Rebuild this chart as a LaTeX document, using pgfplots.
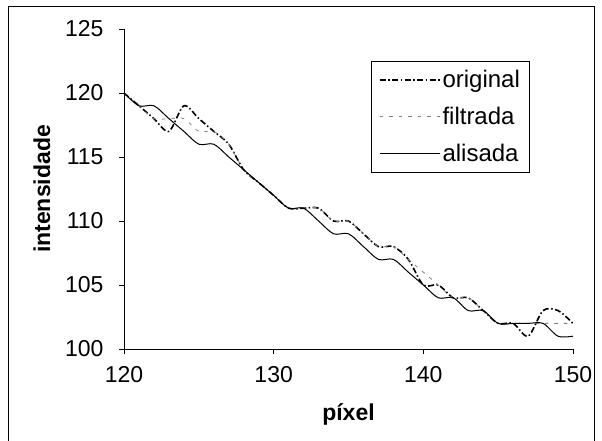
\documentclass[border=0pt]{standalone}
\usepackage{fontspec}
\setmainfont{Liberation Sans}
\usepackage{pgfplots}
\pgfplotsset{compat=1.18}
\begin{document}
\begin{tikzpicture}[x=1pt,y=1pt]
\path[use as bounding box] (0,0) rectangle (602,441);
\draw[line width=1pt] (8.5,0) -- (8.5,434) -- (594,434) -- (594,0);
\begin{axis}[
  at={(124pt,92pt)}, anchor=south west,
  width=449pt, height=320pt, scale only axis,
  xmin=120, xmax=150, ymin=100, ymax=125,
  axis x line*=bottom, axis y line*=left,
  axis line style={line width=0.8pt, -},
  xtick={120,130,140,150}, ytick={100,105,110,115,120,125},
  tick align=outside, major tick length=5pt,
  tick style={line width=0.8pt, black},
  /pgf/number format/assume math mode=true,
  ticklabel style={font=\fontsize{23}{27}\selectfont},
  yticklabel style={xshift=-12pt},
  xticklabel style={yshift=-9pt},
  xlabel={\textbf{píxel}}, ylabel={\textbf{intensidade}},
  label style={font=\fontsize{23}{27}\selectfont},
  xlabel style={at={(axis description cs:0.5,-0.205)}, anchor=center},
  ylabel style={at={(axis description cs:-0.183,0.5)}, anchor=center},
  legend image code/.code={\draw[#1] (0pt,0pt) -- (60pt,0pt);},
  legend cell align=left,
  legend style={at={(rel axis cs:0.549,0.9)}, anchor=north west, draw=black, line width=0.8pt,
    font=\fontsize{24}{28}\selectfont, inner xsep=8pt, inner ysep=7pt, row sep=14pt},
]
\addplot[black, line width=1.6pt, dash pattern=on 6pt off 2.5pt on 1.5pt off 2.5pt, smooth] coordinates {
(120,120) (121,119) (122,118) (123,117) (124,119) (125,118) (126,117) (127,116) (128,114) (129,113)
(130,112) (131,111) (132,111) (133,111) (134,110) (135,110) (136,109) (137,108) (138,108) (139,107)
(140,105) (141,105) (142,104) (143,104) (144,103) (145,102) (146,102) (147,101) (148,103) (149,103) (150,102)};
\addlegendentry{original}
\addplot[gray, line width=0.8pt, dash pattern=on 3.5pt off 6pt, smooth] coordinates {
(120,120) (121,119) (122,118) (123,118) (124,118) (125,117) (126,117) (127,116) (128,114) (129,113)
(130,112) (131,111) (132,111) (133,111) (134,110) (135,110) (136,109) (137,108) (138,108) (139,107)
(140,106) (141,105) (142,104) (143,104) (144,103) (145,102) (146,102) (147,102) (148,102) (149,102) (150,102)};
\addlegendentry{filtrada}
\addplot[black, line width=1pt, smooth] coordinates {
(120,120) (121,119) (122,119) (123,118) (124,117) (125,116) (126,116) (127,115) (128,114) (129,113)
(130,112) (131,111) (132,111) (133,110) (134,109) (135,109) (136,108) (137,107) (138,107) (139,106)
(140,105) (141,104) (142,104) (143,103) (144,103) (145,102) (146,102) (147,102) (148,102) (149,101) (150,101)};
\addlegendentry{alisada}
\end{axis}
\end{tikzpicture}
\end{document}
